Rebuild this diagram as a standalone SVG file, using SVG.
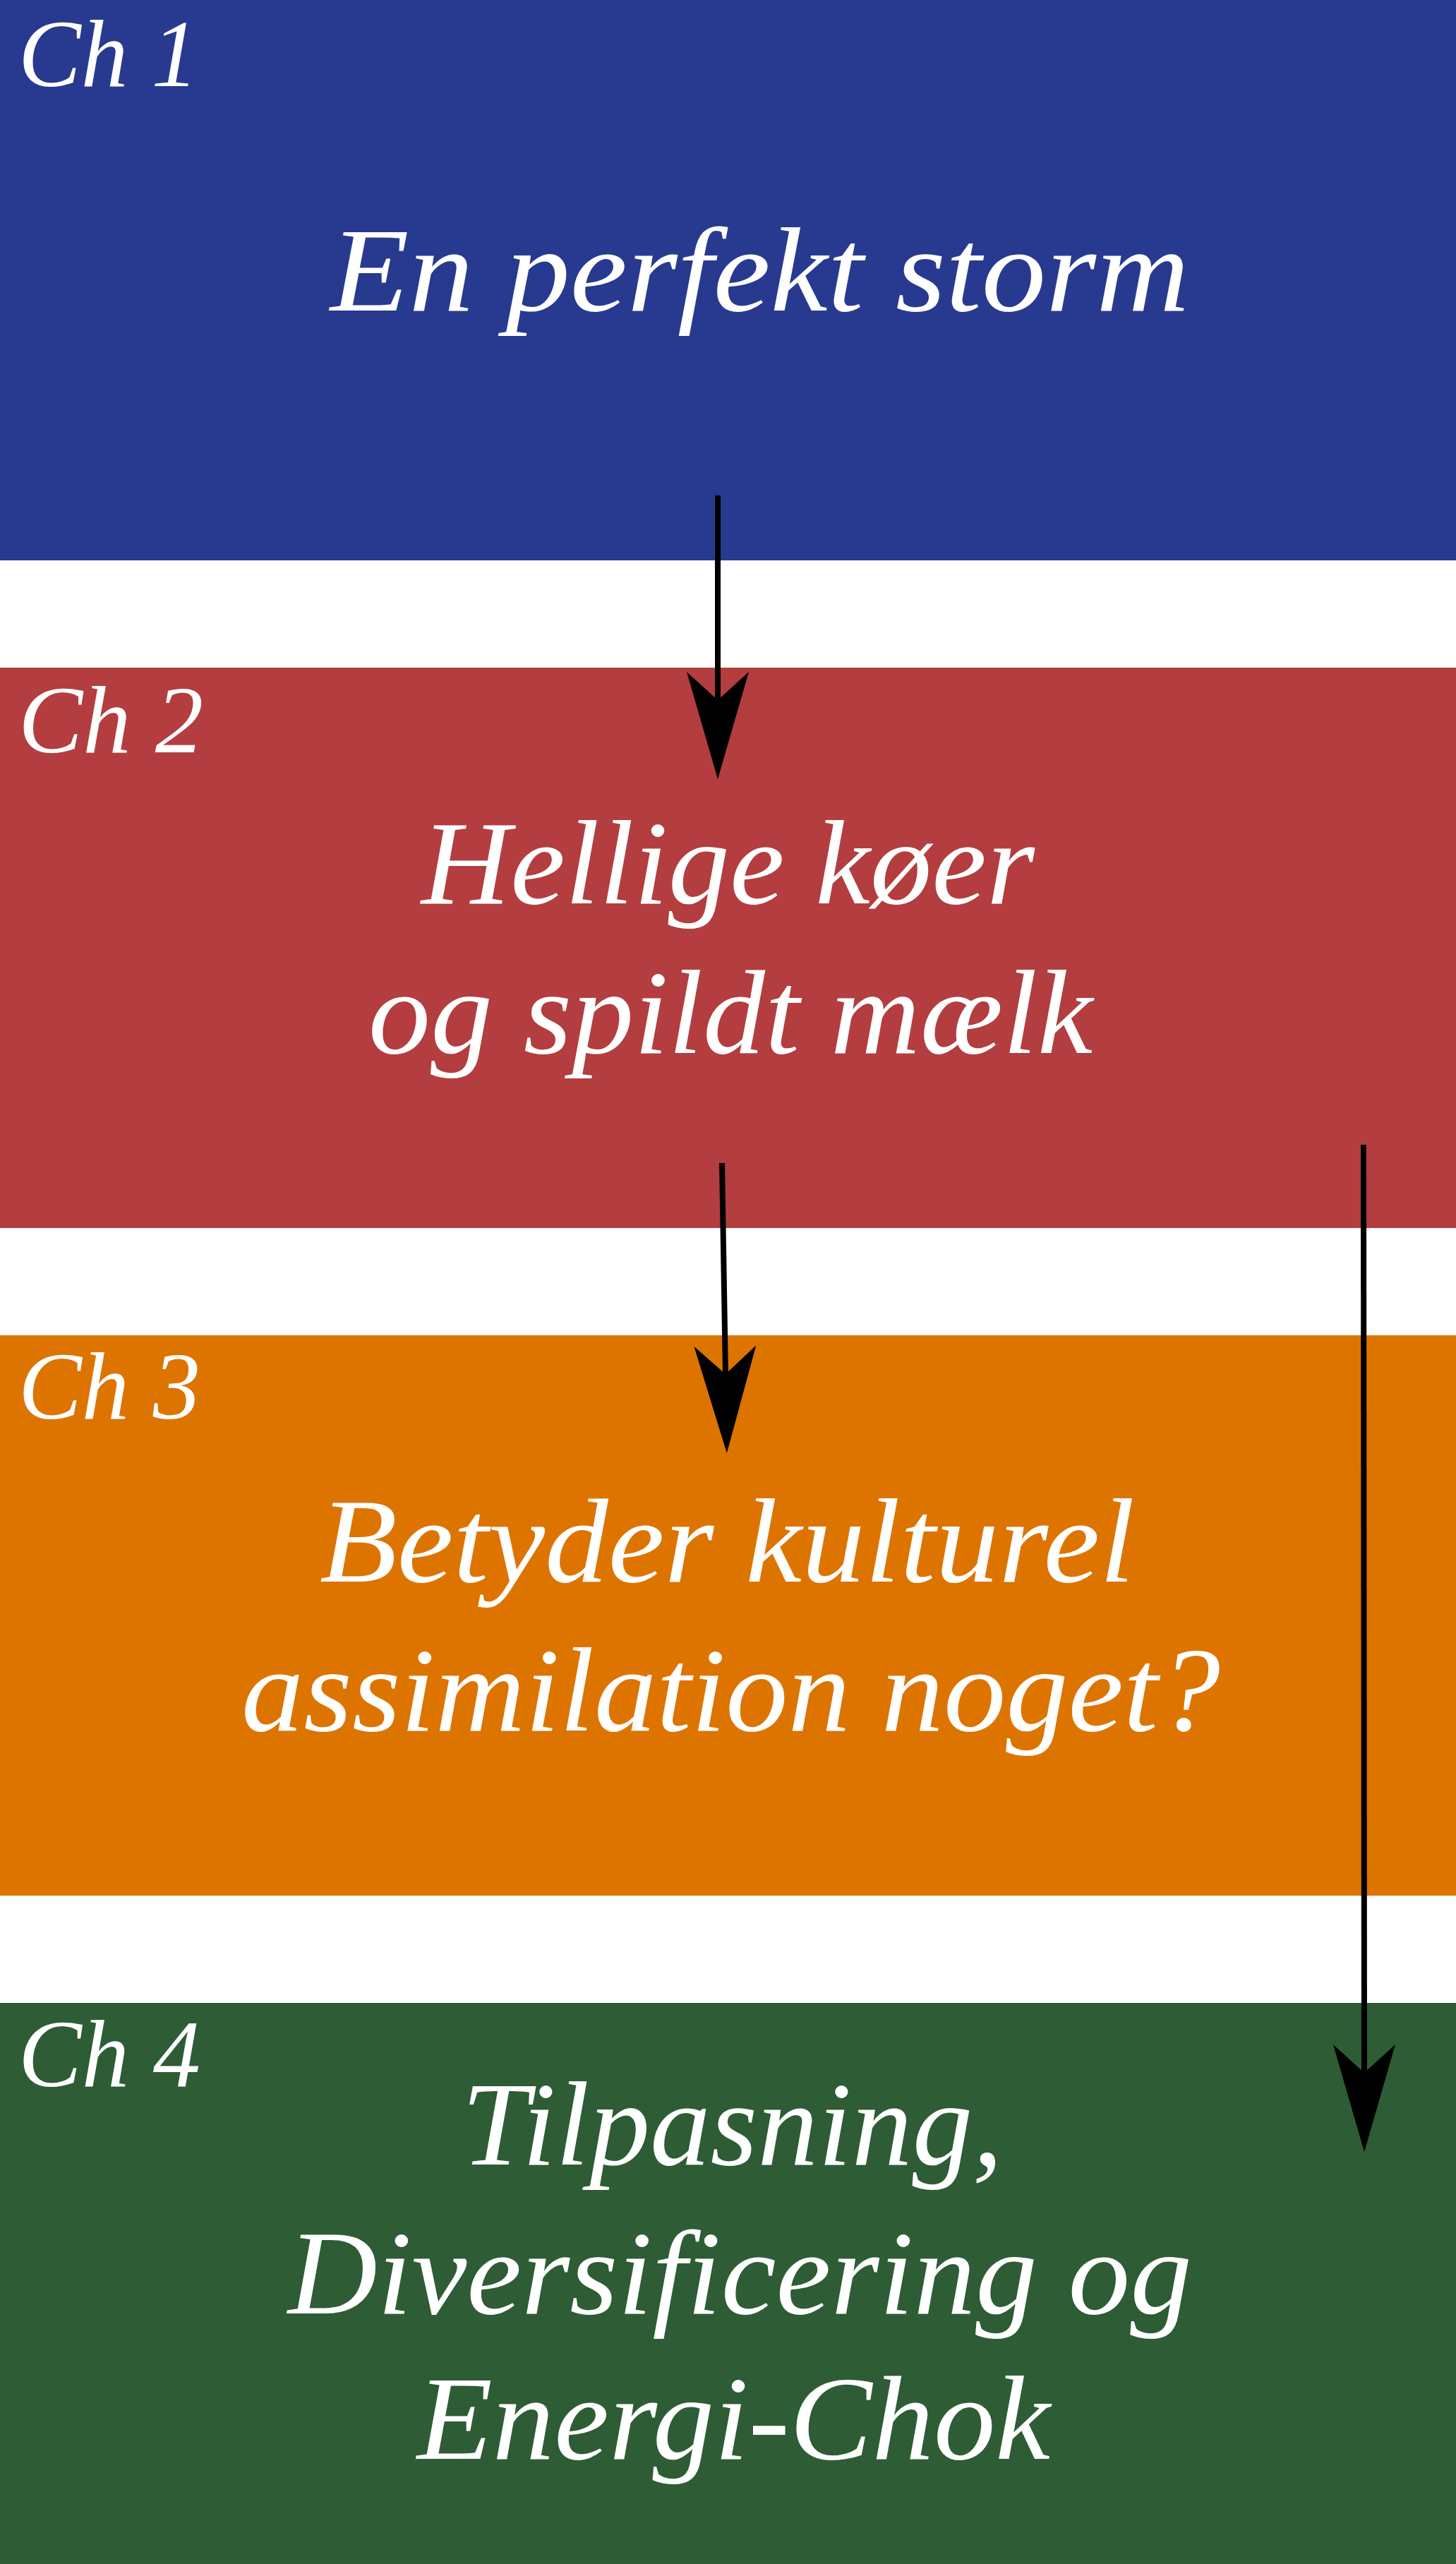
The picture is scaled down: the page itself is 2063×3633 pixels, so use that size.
<svg xmlns="http://www.w3.org/2000/svg" width="2063" height="3633" viewBox="0 0 2063 3633">
  <style>
    .ch { font-family: "Liberation Serif", "DejaVu Serif", serif; font-style: italic; font-size: 136px; fill: #ffffff; }
    .title { font-family: "Liberation Serif", "DejaVu Serif", serif; font-style: italic; font-size: 170px; fill: #ffffff; }
    .conn { stroke: #000000; stroke-width: 8; fill: none; marker-end: url(#head); }
  </style>
  <defs>
    <marker id="head" markerUnits="userSpaceOnUse" viewBox="-45 -50 165 100" markerWidth="165" markerHeight="100" refX="0" refY="0" orient="auto" overflow="visible">
      <path d="M112,0 L-40,-44 L0,0 L-40,44 Z" fill="#000000"/>
    </marker>
  </defs>
  <rect x="0" y="0" width="2063" height="3633" fill="#ffffff"/>
  <g id="ch1">
    <rect x="0" y="0" width="2063" height="794" fill="#283a8f"/>
    <text class="ch" x="26" y="122" textLength="255" lengthAdjust="spacingAndGlyphs">Ch 1</text>
    <text class="title" x="468" y="440" textLength="1217" lengthAdjust="spacingAndGlyphs">En perfekt storm</text>
  </g>
  <g id="ch2">
    <rect x="0" y="946" width="2063" height="794" fill="#b33d3f"/>
    <text class="ch" x="26" y="1066" textLength="262" lengthAdjust="spacingAndGlyphs">Ch 2</text>
    <text class="title" x="597" y="1280" textLength="869" lengthAdjust="spacingAndGlyphs">Hellige køer</text>
    <text class="title" x="522" y="1492" textLength="1026" lengthAdjust="spacingAndGlyphs">og spildt mælk</text>
  </g>
  <g id="ch3">
    <rect x="0" y="1892" width="2063" height="794" fill="#dd7400"/>
    <text class="ch" x="26" y="2010" textLength="258" lengthAdjust="spacingAndGlyphs">Ch 3</text>
    <text class="title" x="453" y="2241" textLength="1155" lengthAdjust="spacingAndGlyphs">Betyder kulturel</text>
    <text class="title" x="342" y="2452" textLength="1387" lengthAdjust="spacingAndGlyphs">assimilation noget?</text>
  </g>
  <g id="ch4">
    <rect x="0" y="2838" width="2063" height="795" fill="#2d5c35"/>
    <text class="ch" x="26" y="2956" textLength="258" lengthAdjust="spacingAndGlyphs">Ch 4</text>
    <text class="title" x="654" y="3067" textLength="767" lengthAdjust="spacingAndGlyphs">Tilpasning,</text>
    <text class="title" x="408" y="3278" textLength="1281" lengthAdjust="spacingAndGlyphs">Diversificering og</text>
    <text class="title" x="591" y="3484" textLength="897" lengthAdjust="spacingAndGlyphs">Energi-Chok</text>
  </g>
  <g id="connectors">
    <line class="conn" x1="1017" y1="702" x2="1017" y2="992"/>
    <line class="conn" x1="1023" y1="1648" x2="1028" y2="1947"/>
    <line class="conn" x1="1932" y1="1622" x2="1933" y2="2937"/>
  </g>
</svg>
